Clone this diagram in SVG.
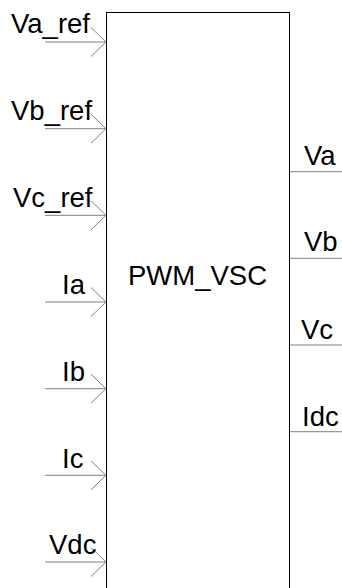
<svg xmlns="http://www.w3.org/2000/svg" width="342" height="588" viewBox="0 0 342 588">
<style>
text{font-family:"Liberation Sans",Arial,sans-serif;font-size:27.5px;fill:#000}
.w{stroke:#808080;stroke-width:1;fill:none}
</style>
<defs>
<path id="arr" class="w" d="M45 0H106M91 -14.5L106 0L91 14.5"/>
</defs>
<rect width="342" height="588" fill="#fff"/>
<g id="connectors">
<use href="#arr" y="42"/>
<use href="#arr" y="128.7"/>
<use href="#arr" y="215.3"/>
<use href="#arr" y="302"/>
<use href="#arr" y="388.7"/>
<use href="#arr" y="475.3"/>
<use href="#arr" y="562"/>
<path class="w" d="M290 171.7H342M290 258.3H342M290 345H342M290 431.7H342"/>
</g>
<g id="PWM_VSC">
<rect x="106.5" y="12.5" width="183" height="600" fill="none" stroke="#000" stroke-width="1"/>
<text x="128" y="285">PWM_VSC</text>
</g>
<g id="labels-in">
<text x="11" y="33">Va_ref</text>
<text x="11" y="120">Vb_ref</text>
<text x="13" y="207">Vc_ref</text>
<text x="62" y="294">Ia</text>
<text x="62" y="381">Ib</text>
<text x="62" y="468">Ic</text>
<text x="49" y="554">Vdc</text>
</g>
<g id="labels-out">
<text x="304" y="165">Va</text>
<text x="304" y="251">Vb</text>
<text x="301" y="339">Vc</text>
<text x="302" y="426">Idc</text>
</g>
</svg>
